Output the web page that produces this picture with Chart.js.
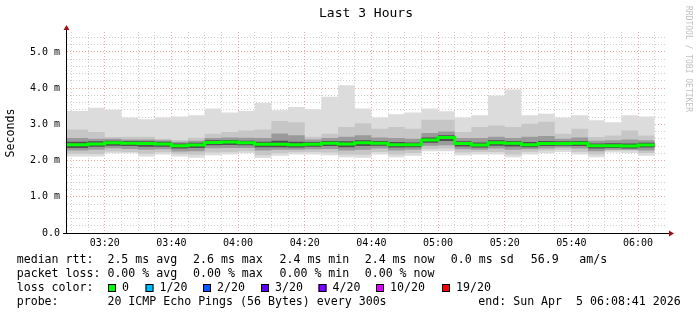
<!DOCTYPE html>
<html>
<head>
<meta charset="utf-8">
<script src="https://cdn.jsdelivr.net/npm/chart.js@4.4.1/dist/chart.umd.min.js"></script>
<style>
  body { margin: 0; background: #fff; }
  #wrap { width: 697px; height: 315px; }
</style>
</head>
<body>
<div id="wrap"><canvas id="grafica" width="697" height="315"></canvas></div>
<script>
// fin de cada intervalo de 5 min (hora local)
const binEnd = [
  '03:15', '03:20', '03:25', '03:30', '03:35', '03:40', '03:45', '03:50', '03:55',
  '04:00', '04:05', '04:10', '04:15', '04:20', '04:25', '04:30', '04:35', '04:40', '04:45', '04:50', '04:55',
  '05:00', '05:05', '05:10', '05:15', '05:20', '05:25', '05:30', '05:35', '05:40', '05:45', '05:50', '05:55',
  '06:00', '06:05'
];

// valores en ms
const medianRtt = [2.44, 2.46, 2.49, 2.48, 2.47, 2.46, 2.41, 2.43, 2.50, 2.51, 2.49, 2.45, 2.45, 2.44, 2.45, 2.48, 2.46, 2.49,
  2.48, 2.44, 2.44, 2.57, 2.64, 2.47, 2.43, 2.49, 2.48, 2.44, 2.47, 2.47, 2.48, 2.41, 2.41, 2.40, 2.43];
const rttMax = [3.37, 3.46, 3.40, 3.19, 3.14, 3.19, 3.22, 3.25, 3.44, 3.33, 3.37, 3.59, 3.39, 3.48, 3.42, 3.76, 4.08, 3.44,
  3.19, 3.28, 3.33, 3.44, 3.36, 3.19, 3.25, 3.80, 3.96, 3.25, 3.29, 3.19, 3.25, 3.11, 3.06, 3.25, 3.22];
const rttMin = [2.11, 2.11, 2.20, 2.20, 2.11, 2.17, 2.11, 2.08, 2.15, 2.17, 2.20, 2.07, 2.13, 2.17, 2.17, 2.15, 2.09, 2.08,
  2.17, 2.09, 2.13, 2.26, 2.26, 2.15, 2.17, 2.17, 2.09, 2.17, 2.20, 2.24, 2.17, 2.09, 2.22, 2.21, 2.13];
const smokeHi = [2.86, 2.79, 2.65, 2.66, 2.66, 2.60, 2.57, 2.63, 2.74, 2.79, 2.83, 2.86, 3.09, 3.06, 2.66, 2.74, 2.93, 3.03,
  2.88, 2.93, 2.88, 3.13, 3.13, 2.79, 2.93, 2.97, 2.93, 3.02, 3.07, 2.74, 2.88, 2.65, 2.69, 2.83, 2.69];
const smokeLo = [2.19, 2.18, 2.25, 2.24, 2.19, 2.23, 2.18, 2.16, 2.22, 2.23, 2.26, 2.15, 2.20, 2.23, 2.24, 2.22, 2.17, 2.16,
  2.24, 2.17, 2.21, 2.32, 2.33, 2.22, 2.24, 2.24, 2.17, 2.24, 2.27, 2.30, 2.24, 2.17, 2.28, 2.28, 2.21];
const innerHi = [2.62, 2.60, 2.60, 2.58, 2.58, 2.56, 2.52, 2.55, 2.62, 2.64, 2.63, 2.62, 2.75, 2.70, 2.58, 2.62, 2.66, 2.70,
  2.64, 2.62, 2.60, 2.76, 2.80, 2.62, 2.62, 2.66, 2.62, 2.66, 2.68, 2.60, 2.64, 2.55, 2.56, 2.58, 2.56];
const innerLo = [2.28, 2.30, 2.34, 2.32, 2.30, 2.31, 2.25, 2.26, 2.34, 2.35, 2.35, 2.28, 2.30, 2.30, 2.31, 2.32, 2.28, 2.30,
  2.33, 2.28, 2.30, 2.41, 2.42, 2.31, 2.30, 2.33, 2.30, 2.31, 2.33, 2.36, 2.33, 2.26, 2.30, 2.30, 2.28];
const coreHi = [2.52, 2.53, 2.55, 2.54, 2.53, 2.52, 2.47, 2.49, 2.56, 2.57, 2.55, 2.52, 2.55, 2.52, 2.51, 2.54, 2.53, 2.56,
  2.54, 2.51, 2.50, 2.64, 2.70, 2.53, 2.50, 2.56, 2.54, 2.51, 2.54, 2.53, 2.54, 2.47, 2.48, 2.47, 2.49];
const coreLo = [2.35, 2.38, 2.41, 2.40, 2.38, 2.38, 2.33, 2.35, 2.42, 2.43, 2.42, 2.37, 2.37, 2.36, 2.38, 2.40, 2.37, 2.40,
  2.41, 2.36, 2.37, 2.49, 2.54, 2.39, 2.36, 2.41, 2.39, 2.37, 2.40, 2.41, 2.40, 2.33, 2.35, 2.33, 2.36];

const yTicks = ['0.0', '1.0 m', '2.0 m', '3.0 m', '4.0 m', '5.0 m'];

const lossLabels = ['0', '1/20', '2/20', '3/20', '4/20', '10/20', '19/20'];
const lossColors = ['#00ff00', '#00b8ff', '#0059ff', '#5e00ff', '#7e00ff', '#dd00ff', '#ff0000'];

const xStart = 8 + 41 / 60;   // 03:08:41 en minutos desde las 03:00
const xEnd = xStart + 180;

function aMinutos(hhmm) {
  const [h, m] = hhmm.split(':').map(Number);
  return (h - 3) * 60 + m;
}
function aHora(min) {
  const h = 3 + Math.floor(min / 60), m = Math.round(min % 60);
  return String(h).padStart(2, '0') + ':' + String(m).padStart(2, '0');
}
function escalones(valores) {
  return [{ x: xStart, y: valores[0] }].concat(binEnd.map((t, i) => ({ x: aMinutos(t), y: valores[i] })));
}
function banda(valores, color, fill) {
  return {
    data: escalones(valores), stepped: 'after', borderWidth: 0, borderColor: 'rgba(0,0,0,0)',
    backgroundColor: color, pointRadius: 0, fill: fill
  };
}

const xTicks = [];
for (let t = 10; t < xEnd; t += 5) xTicks.push(t);

const mono = '"DejaVu Sans Mono", monospace';
const gridMayor = 'rgba(220,40,40,0.42)';
const gridMenor = 'rgba(140,140,140,0.42)';

const textos = {
  id: 'textos',
  afterDraw(chart) {
    const ctx = chart.ctx;
    const { left, top, right, bottom } = chart.chartArea;
    ctx.save();
    // ejes
    ctx.strokeStyle = '#000';
    ctx.lineWidth = 1;
    ctx.beginPath();
    ctx.moveTo(left - 0.5, bottom + 0.5);
    ctx.lineTo(left - 0.5, top - 3);
    ctx.moveTo(left - 4, bottom + 0.5);
    ctx.lineTo(right + 3, bottom + 0.5);
    ctx.stroke();
    ctx.fillStyle = '#a01010';
    ctx.beginPath();
    ctx.moveTo(left - 0.5, top - 7);
    ctx.lineTo(left - 3.5, top - 2);
    ctx.lineTo(left + 2.5, top - 2);
    ctx.fill();
    ctx.beginPath();
    ctx.moveTo(right + 7, bottom + 0.5);
    ctx.lineTo(right + 2, bottom - 2.5);
    ctx.lineTo(right + 2, bottom + 3.5);
    ctx.fill();

    ctx.fillStyle = '#000';
    ctx.textBaseline = 'middle';
    ctx.textAlign = 'center';
    ctx.font = '13px ' + mono;
    ctx.fillText('Last 3 Hours', 366, 14);

    ctx.font = '11.6px ' + mono;
    ctx.save();
    ctx.translate(11, 133);
    ctx.rotate(-Math.PI / 2);
    ctx.fillText('Seconds', 0, 0);
    ctx.restore();

    ctx.save();
    ctx.fillStyle = '#c0c0c0';
    ctx.font = '8px ' + mono;
    ctx.translate(688, 59);
    ctx.rotate(Math.PI / 2);
    ctx.fillText('RRDTOOL / TOBI OETIKER', 0, 0);
    ctx.restore();

    // leyenda
    ctx.textAlign = 'left';
    const fila = [260, 274, 288, 302];
    ctx.fillText('median rtt:', 16.7, fila[0]);
    ctx.fillText('2.5 ms avg', 107.4, fila[0]);
    ctx.fillText('2.6 ms max', 193, fila[0]);
    ctx.fillText('2.4 ms min', 279.5, fila[0]);
    ctx.fillText('2.4 ms now', 364.7, fila[0]);
    ctx.fillText('0.0 ms sd', 450.8, fila[0]);
    ctx.fillText('56.9', 530.7, fila[0]);
    ctx.fillText('am/s', 579.3, fila[0]);

    ctx.fillText('packet loss:', 16.7, fila[1]);
    ctx.fillText('0.00 % avg', 107.4, fila[1]);
    ctx.fillText('0.00 % max', 193, fila[1]);
    ctx.fillText('0.00 % min', 279.5, fila[1]);
    ctx.fillText('0.00 % now', 364.7, fila[1]);

    ctx.fillText('loss color:', 16.7, fila[2]);
    const cajas = [108, 145.5, 203, 261, 318.5, 376, 442];
    lossLabels.forEach((lab, i) => {
      ctx.fillStyle = lossColors[i];
      ctx.fillRect(cajas[i], fila[2] - 4, 8, 8);
      ctx.strokeStyle = '#000';
      ctx.strokeRect(cajas[i] + 0.5, fila[2] - 3.5, 7, 7);
      ctx.fillStyle = '#000';
      ctx.fillText(lab, cajas[i] + 14, fila[2]);
    });

    ctx.fillText('probe:', 16.7, fila[3]);
    ctx.fillText('20 ICMP Echo Pings (56 Bytes) every 300s', 107.4, fila[3]);
    ctx.fillText('end: Sun Apr  5 06:08:41 2026', 478.3, fila[3]);
    ctx.restore();
  }
};

new Chart(document.getElementById('grafica').getContext('2d'), {
  type: 'line',
  data: {
    datasets: [
      { data: escalones(medianRtt), stepped: 'after', borderColor: '#00ff00', borderWidth: 3, pointRadius: 0, fill: false },
      banda(coreHi, '#505050', '+1'),
      banda(coreLo, 'rgba(0,0,0,0)', false),
      banda(innerHi, '#9a9a9a', '+1'),
      banda(innerLo, 'rgba(0,0,0,0)', false),
      banda(smokeHi, '#c6c6c6', '+1'),
      banda(smokeLo, 'rgba(0,0,0,0)', false),
      banda(rttMax, '#dcdcdc', '+1'),
      banda(rttMin, 'rgba(0,0,0,0)', false)
    ]
  },
  options: {
    responsive: false,
    animation: false,
    devicePixelRatio: 1,
    layout: { padding: { left: 0, right: 30, top: 32, bottom: 62 } },
    plugins: { legend: { display: false }, tooltip: { enabled: false } },
    scales: {
      x: {
        type: 'linear', min: xStart, max: xEnd, z: 1,
        afterBuildTicks: (axis) => { axis.ticks = xTicks.map(v => ({ value: v })); },
        afterFit: (s) => { s.height = 20; },
        grid: {
          drawTicks: false,
          color: (c) => (c.tick && c.tick.value % 20 === 0) ? gridMayor : gridMenor
        },
        border: { display: false, dash: [1, 2] },
        ticks: {
          autoSkip: false, maxRotation: 0, padding: 4, color: '#000',
          font: { family: mono, size: 10 },
          callback: (v) => v % 20 === 0 ? aHora(v) : ''
        }
      },
      y: {
        min: 0, max: 5.55, z: 1,
        afterFit: (s) => { s.width = 67; },
        grid: {
          drawTicks: false,
          color: (c) => (c.tick && Math.abs(c.tick.value - Math.round(c.tick.value)) < 1e-6) ? gridMayor : gridMenor
        },
        border: { display: false, dash: [1, 2] },
        ticks: {
          stepSize: 0.2, includeBounds: false, autoSkip: false, padding: 7, color: '#000',
          font: { family: mono, size: 10 },
          callback: (v) => Math.abs(v - Math.round(v)) < 1e-6 ? yTicks[Math.round(v)] : ''
        }
      }
    }
  },
  plugins: [textos]
});
</script>
</body>
</html>
